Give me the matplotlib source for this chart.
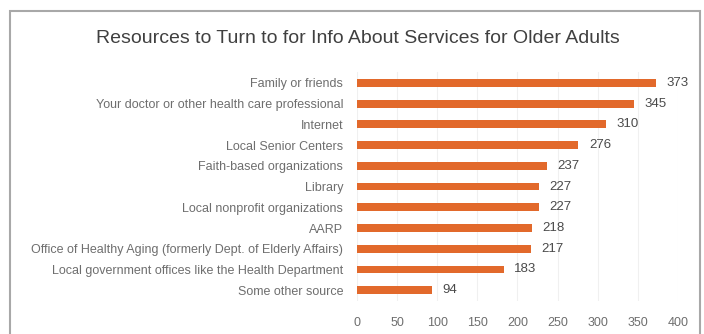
import matplotlib
matplotlib.use("Agg")
import matplotlib.pyplot as plt
from matplotlib.patches import Rectangle
import numpy as np

# ---------------- Data ------------------------
categories = [
    "Family or friends",
    "Your doctor or other health care professional",
    "Internet",
    "Local Senior Centers",
    "Faith-based organizations",
    "Library",
    "Local nonprofit organizations",
    "AARP",
    "Office of Healthy Aging (formerly Dept. of Elderly Affairs)",
    "Local government offices like the Health Department",
    "Some other source",
]
counts = [373, 345, 310, 276, 237, 227, 227, 218, 217, 183, 94]
x_ticks = [0, 50, 100, 150, 200, 250, 300, 350, 400]

plt.rcParams["font.family"] = ["Liberation Sans", "DejaVu Sans"]

BAR_COLOR = "#E2692B"
LABEL_COLOR = "#6e6e6e"
VALUE_COLOR = "#4a4a4a"

fig = plt.figure(figsize=(7.04, 3.34), dpi=100)
fig.patch.set_facecolor("white")
ax = fig.add_axes([0.507, 0.10, 0.456, 0.683])

y = np.arange(len(categories))
ax.barh(y, counts, height=0.38, color=BAR_COLOR, zorder=3)
for yi, v in zip(y, counts):
    ax.text(v + 13, yi, str(v), va="center", ha="left", fontsize=9.5, color=VALUE_COLOR)

ax.set_xlim(0, 400)
ax.set_ylim(len(categories) - 0.5, -0.5)
ax.set_yticks(y)
ax.set_yticklabels(categories, fontsize=9, color=LABEL_COLOR)
ax.set_xticks(x_ticks)
ax.set_xticklabels([str(t) for t in x_ticks], fontsize=9, color=LABEL_COLOR)
ax.tick_params(axis="both", length=0)
ax.tick_params(axis="y", pad=10)
ax.tick_params(axis="x", pad=12)
ax.grid(axis="x", color="#f0f0f0", linewidth=0.8, zorder=0)
for s in ax.spines.values():
    s.set_visible(False)

fig.text(0.509, 0.885, "Resources to Turn to for Info About Services for Older Adults",
         ha="center", va="center", fontsize=14, color="#404040")

# outer frame
fig.patches.append(Rectangle((0.014, -0.05), 0.981, 1.016, transform=fig.transFigure,
                             fill=False, edgecolor="#a8a8a8", linewidth=1.5))

fig.savefig("out.png", dpi=100, facecolor="white")
